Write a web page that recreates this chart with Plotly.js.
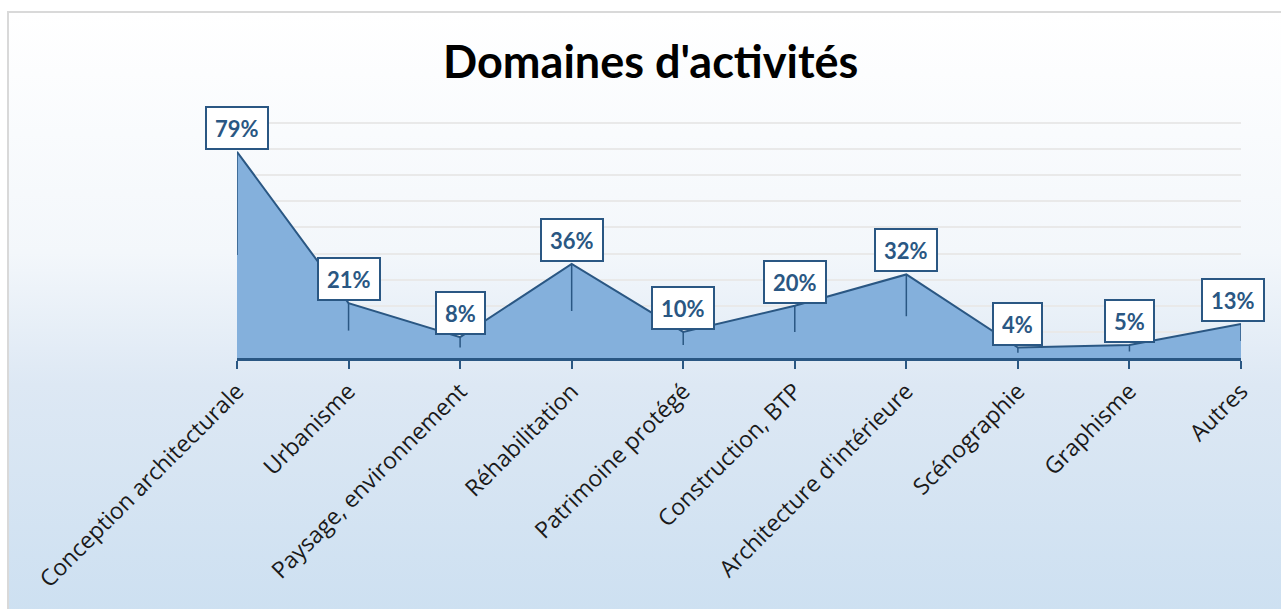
<!DOCTYPE html>
<html>
<head>
<meta charset="utf-8">
<script src="https://cdn.plot.ly/plotly-3.0.1.min.js"></script>
<style>
  html, body { margin: 0; padding: 0; background: #ffffff; }
  #frame {
    position: absolute; left: 7px; top: 11px; width: 1280px; height: 600px;
    border-left: 2px solid #d9d9d9; border-top: 2px solid #d9d9d9;
    background: linear-gradient(to bottom, #ffffff 0%, #f3f7fb 40%, #dde8f4 62%, #cde0f1 100%);
  }
  #chart { position: absolute; left: 0; top: 0; width: 1281px; height: 609px; }
</style>
</head>
<body>
<div id="frame"></div>
<div id="chart"></div>
<script>
const categories = [
  'Conception architecturale', 'Urbanisme', 'Paysage, environnement', 'Réhabilitation',
  'Patrimoine protégé', 'Construction, BTP', "Architecture d'intérieure", 'Scénographie',
  'Graphisme', 'Autres'
];
const shares = [79, 21, 8, 36, 10, 20, 32, 4, 5, 13];

const darkBlue = '#2a5783';

const areaTrace = {
  x: categories,
  y: shares,
  type: 'scatter',
  mode: 'lines',
  fill: 'tozeroy',
  fillcolor: '#84b0dc',
  line: { color: darkBlue, width: 2 },
  // the old leader lines, dropping to half height
  error_y: { type: 'percent', symmetric: false, value: 0, valueminus: 50, width: 0, color: darkBlue, thickness: 1.5 },
  hoverinfo: 'x+y'
};

const labels = categories.map((c, i) => ({
  x: c,
  y: shares[i],
  text: '<b>' + shares[i] + '%</b>',
  showarrow: false,
  xanchor: 'center',
  yanchor: 'bottom',
  yshift: 2,
  xshift: i === categories.length - 1 ? -8 : 0,
  font: { family: 'Lato, sans-serif', size: 22, color: darkBlue },
  bgcolor: '#ffffff',
  bordercolor: darkBlue,
  borderwidth: 2,
  borderpad: 8,
  height: 24
}));

const layout = {
  width: 1281,
  height: 609,
  paper_bgcolor: 'rgba(0,0,0,0)',
  plot_bgcolor: 'rgba(0,0,0,0)',
  margin: { l: 237, r: 40, t: 122, b: 251 },
  showlegend: false,
  title: {
    text: "<b>Domaines d'activités</b>",
    font: { family: 'Lato, sans-serif', size: 45, color: '#000000' },
    x: 0.508, xref: 'container', xanchor: 'center',
    y: 0.898, yref: 'container', yanchor: 'middle'
  },
  xaxis: {
    type: 'category',
    range: [0, 9],
    showline: true,
    linecolor: darkBlue,
    linewidth: 2.5,
    ticks: 'outside',
    ticklen: 8,
    tickwidth: 2,
    tickcolor: darkBlue,
    tickangle: -45,
    tickfont: { family: 'Open Sans, sans-serif', size: 23, color: '#1a1a1a' },
    showgrid: false,
    zeroline: false
  },
  yaxis: {
    range: [0, 90.4],
    dtick: 10,
    showticklabels: false,
    showline: false,
    gridcolor: '#e9e9e9',
    gridwidth: 1.5,
    zeroline: false
  },
  annotations: labels
};

Plotly.newPlot('chart', [areaTrace], layout, { displayModeBar: false });
</script>
</body>
</html>
